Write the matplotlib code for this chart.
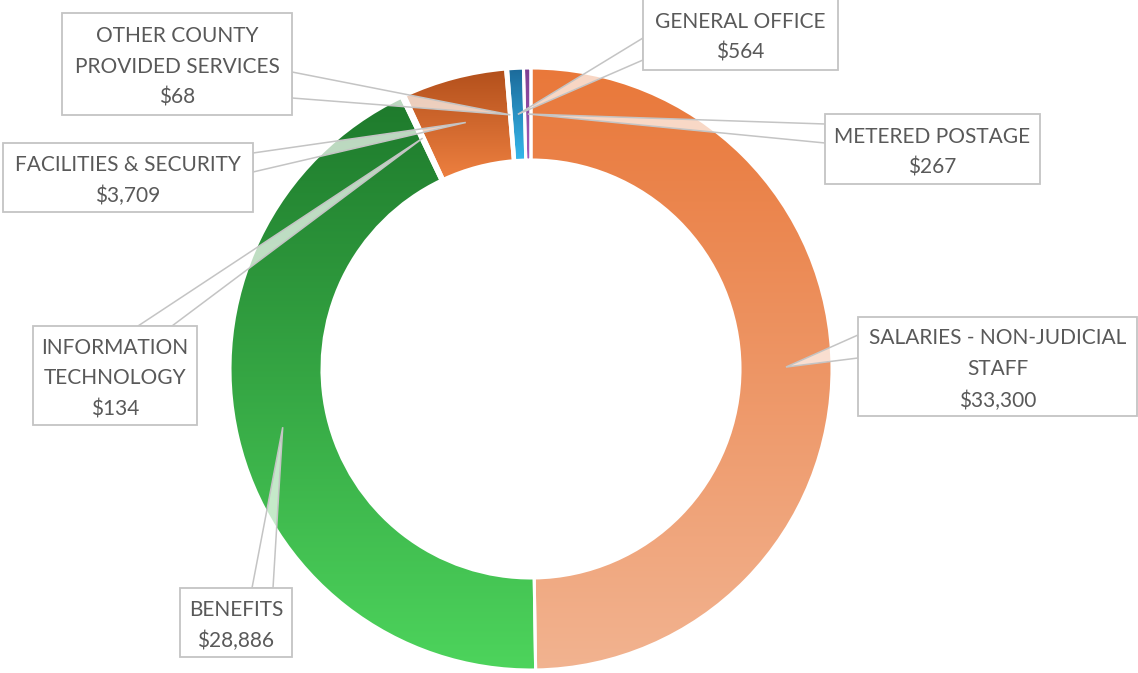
import numpy as np
import matplotlib.pyplot as plt
from matplotlib.colors import LinearSegmentedColormap
from matplotlib.patches import Rectangle, Polygon

W, H = 1138, 673

categories = ['SALARIES - NON-JUDICIAL\nSTAFF', 'BENEFITS', 'INFORMATION\nTECHNOLOGY',
              'FACILITIES & SECURITY', 'OTHER COUNTY\nPROVIDED SERVICES',
              'GENERAL OFFICE', 'METERED POSTAGE']
amounts = [33300, 28886, 134, 3709, 68, 564, 267]

# top / bottom colour of each slice's vertical gradient
grad_top = ['#E9783A', '#1E7A2C', '#FFFFFF', '#B24F1B', '#FFFFFF', '#1C6A9A', '#7D3F91']
grad_bottom = ['#F2B390', '#4DD45C', '#FFFFFF', '#EE8040', '#FFFFFF', '#35B8EC', '#A55BBA']

# callout boxes (x0, y0, x1, y1) and pointer base points, pixels from top-left
boxes = [(858, 317, 1137, 416), (180, 588, 292, 657), (33, 326, 197, 425),
         (3, 143, 253, 212), (62, 13, 292, 115), (643, -1, 838, 70),
         (825, 114, 1040, 184)]
bases = [((858, 335), (858, 358)), ((252, 588), (273, 588)), ((138, 326), (172, 326)),
         ((253, 153), (253, 172)), ((292, 72), (292, 98)), ((643, 38), (643, 60)),
         ((825, 124), (825, 143))]

cx, cy, R, ring = 531, H - 369, 301, 92

fig = plt.figure(figsize=(W / 100, H / 100), dpi=100)
ax = fig.add_axes([0, 0, 1, 1])

wedges, _ = ax.pie(amounts, center=(cx, cy), radius=R, startangle=90, counterclock=False,
                   wedgeprops=dict(width=ring, edgecolor='white', linewidth=2.2))

grad = np.linspace(1, 0, 256).reshape(-1, 1)
for w, c0, c1 in zip(wedges, grad_top, grad_bottom):
    w.set_facecolor('none')
    w.set_zorder(2)
    bb = w.get_path().get_extents()
    cmap = LinearSegmentedColormap.from_list('g', [c0, c1])
    im = ax.imshow(grad, extent=(bb.x0, bb.x1, bb.y0, bb.y1), cmap=cmap, vmin=0, vmax=1,
                   origin='lower', aspect='auto', interpolation='bilinear', zorder=1)
    im.set_clip_path(w)

text_kw = dict(ha='center', va='center', color='#595959', fontsize=15,
               family=['Lato', 'DejaVu Sans'], linespacing=1.68, zorder=6)

for w, name, val, box, (b1, b2) in zip(wedges, categories, amounts, boxes, bases):
    mid = np.deg2rad((w.theta1 + w.theta2) / 2)
    tip = (cx + (R - ring / 2) * np.cos(mid), cy + (R - ring / 2) * np.sin(mid))
    ax.add_patch(Polygon([(b1[0], H - b1[1]), tip, (b2[0], H - b2[1])], closed=True,
                         facecolor=(1, 1, 1, 0.7), edgecolor='#C4C4C4',
                         linewidth=1.1, zorder=4))
    x0, y0, x1, y1 = box
    ax.add_patch(Rectangle((x0, H - y1), x1 - x0, y1 - y0, facecolor='white',
                           edgecolor='#C4C4C4', linewidth=1.3, zorder=5))
    ax.text((x0 + x1) / 2, H - (y0 + y1) / 2 - 3, f'{name}\n${val:,}', **text_kw)

ax.set_xlim(0, W)
ax.set_ylim(0, H)
ax.axis('off')

fig.savefig('out.png', dpi=100, facecolor='white')
